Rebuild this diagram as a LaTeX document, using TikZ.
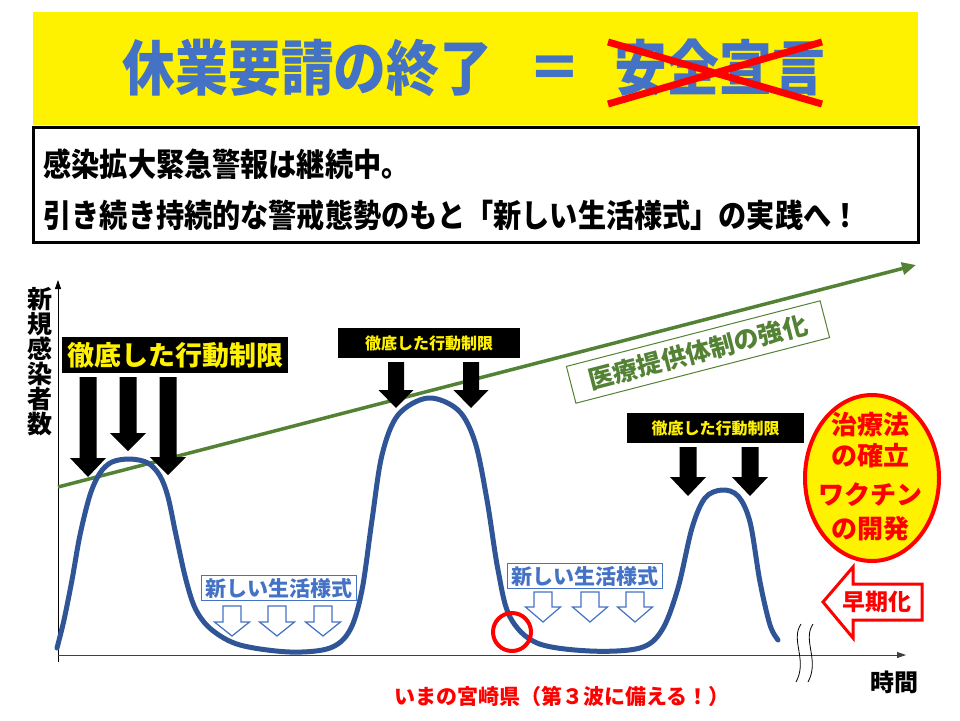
\documentclass[tikz,border=0pt]{standalone}
\usepackage{fontspec}
\setmainfont{Noto Sans CJK JP}
\newfontfamily\jpnarrow{Noto Sans CJK JP}[FakeStretch=0.88]
\usetikzlibrary{arrows.meta,shapes.geometric}
\definecolor{titleblue}{HTML}{4472C4}
\definecolor{waveblue}{HTML}{2F5597}
\definecolor{careg}{HTML}{548235}
\newcommand{\blockarrow}[7][]{\draw[#1] (#2-#6,#3) -- (#2+#6,#3) -- (#2+#6,#4) -- (#2+#7,#4) -- (#2,#5) -- (#2-#7,#4) -- (#2-#6,#4) -- cycle;}
\newcommand{\fs}[1]{\fontsize{#1}{#1}\selectfont}

\begin{document}
\begin{tikzpicture}[x=1pt,y=-1pt]
\tikzset{limit/.style={fill=black,text=yellow,inner sep=0pt,font=\bfseries},
         life/.style={draw=titleblue,fill=white,text=titleblue,inner sep=0pt,line width=1pt,
                      minimum width=155pt,minimum height=25pt,font=\bfseries\fs{21}},
         hollow/.style={draw=titleblue,fill=white,line width=1.2pt},
         blk/.style={fill=black,draw=none},
         axis/.style={-{Triangle[length=9pt,width=6pt]},line width=0.8pt},
         wave/.style={draw=waveblue,line width=5pt,line cap=round},
         redtxt/.style={text=red,font=\bfseries\fs{26}}}
\useasboundingbox[fill=white] (0,0) rectangle (960,720);
\fill[yellow] (33,12) rectangle (918,125);
\node (title) at (474,68) {\jpnarrow\bfseries\fs{60}\color{titleblue}休業要請の終了\hspace{0.6em}＝\hspace{0.55em}安全宣言};
\draw[red,line width=7pt] (608,42) -- (822,104) (608,104) -- (822,42);
\draw[line width=3pt] (33,127) rectangle (918,242);
\node[anchor=west] (msga) at (40,164) {\jpnarrow\bfseries\fs{32}感染拡大緊急警報は継続中。};
\node[anchor=west] (msgb) at (40,215) {\jpnarrow\bfseries\fs{32}引き続き持続的な警戒態勢のもと「新しい生活様式」の実践へ！};

\coordinate (o) at (58,655);
\coordinate (ytop) at (58,280);
\coordinate (xend) at (906,655);
\draw[axis] (58,662) -- (ytop);
\draw[axis,black!75] (o) -- (xend);
\draw[line width=0.8pt] (801,624) .. controls (790,640) and (808,660) .. (796,682)
                        (813,624) .. controls (802,640) and (820,660) .. (808,682);
\node[font=\bfseries\fs{25},align=center,inner sep=0pt] (ylab) at (40,362) {\fontsize{25}{23.5}\selectfont 新\\規\\感\\染\\者\\数};
\node[font=\bfseries\fs{24}] (time) at (894,682) {時間};

\draw[careg,line width=3.5pt,-{Triangle[length=14pt,width=12pt]}] (58,487) -- (916,265);
\node[draw=careg,line width=1pt,rotate=14.5,text=careg,font=\bfseries\fs{25},inner sep=0pt,
      minimum width=262pt,minimum height=38pt] (care) at (698,352) {医療提供体制の強化};

\draw[wave] plot[smooth,tension=0.55] coordinates {(57,648) (64,620) (72,580) (80,535) (90,495)
  (100,473) (112,462) (130,459) (148,463) (160,476) (168,497) (176,535) (186,580) (196,610)
  (212,630) (240,645) (290,652) (330,648) (350,630) (362,590) (372,520) (382,455) (398,415)
  (428,398) (458,410) (475,442) (487,500) (498,570) (510,617) (537,643) (590,651) (640,648)
  (662,630) (678,588) (692,528) (705,498) (722,490) (738,496) (750,522) (760,582) (770,625)
  (778,640)};
\draw[red,line width=4pt] (512,632) circle[radius=19pt];

\node[limit,minimum width=226pt,minimum height=36pt,font=\bfseries\fs{27}] (lim1) at (175,355) {徹底した行動制限};
\foreach \x/\b/\t in {88/458/477,128/433/451,168/457/475}
  {\blockarrow[blk]{\x}{377}{\b}{\t}{8.5}{18}}
\node[limit,minimum width=182pt,minimum height=30pt,font=\bfseries\fs{16}] (lim2) at (429,343) {徹底した行動制限};
\foreach \x in {396,471}
  {\blockarrow[blk]{\x}{362}{390}{408}{8}{17.5}}
\node[limit,minimum width=177pt,minimum height=30pt,font=\bfseries\fs{16}] (lim3) at (715.5,428) {徹底した行動制限};
\foreach \x in {688,750}
  {\blockarrow[blk]{\x}{447}{477}{496}{8.5}{18}}

\node[life] (life1) at (278.5,588) {新しい生活様式};
\foreach \x in {232,277,323}
  {\blockarrow[hollow]{\x}{606}{622}{636}{9}{17.5}}
\node[life] (life2) at (585,576) {新しい生活様式};
\foreach \x in {543,590,635}
  {\blockarrow[hollow]{\x}{592}{607}{622}{9}{17.5}}

\node[ellipse,draw=red,fill=yellow,line width=4pt,minimum width=134pt,minimum height=166pt] (cure) at (872,478) {};
\node[redtxt] at (870,425) {治療法};
\node[redtxt] at (870,456) {の確立};
\node[redtxt] at (870,495) {ワクチン};
\node[redtxt] at (870,529) {の開発};

\draw[red,line width=3pt,fill=white] (823,602) -- (853,567) -- (853,584) -- (922,584) -- (922,620)
  -- (853,620) -- (853,638) -- cycle;
\node[text=red,font=\bfseries\fs{23}] (early) at (877,602) {早期化};

\node[text=red,font=\bfseries\fs{21}] (now) at (562,696) {いまの宮崎県（第３波に備える！）};
\end{tikzpicture}
\end{document}
